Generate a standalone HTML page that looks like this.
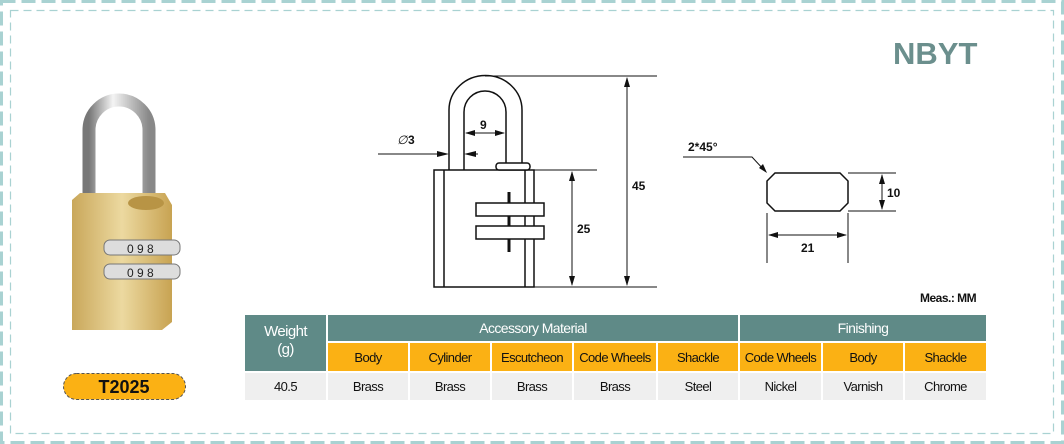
<!DOCTYPE html>
<html><head><meta charset="utf-8"><style>
body{margin:0;background:#fff;font-family:"Liberation Sans",sans-serif;}
.wrap{position:relative;width:1064px;height:444px;overflow:hidden;background:#fff;}
table{position:absolute;left:243px;top:313px;border-collapse:separate;border-spacing:2px;font-size:13px;text-align:center;letter-spacing:-0.6px}
td{padding:0}
.h{background:#5f8a87;color:#fff;font-size:14px}
.o{background:#fbb114;color:#111;height:28px}
.d{background:#efefef;color:#111;height:27px}
</style></head><body><div class="wrap">
<svg width="1064" height="444" style="position:absolute;left:0;top:0">
<rect x="1.5" y="1.5" width="1061" height="441" fill="none" stroke="#a9d2d2" stroke-width="3" stroke-dasharray="14,6"/>
<rect x="10.5" y="10.5" width="1043" height="423" fill="none" stroke="#a9d2d2" stroke-width="1.2" stroke-dasharray="8,5"/>
<text x="893" y="64" font-size="31" font-weight="bold" fill="#6b8f8d" font-family="Liberation Sans">NBYT</text>
<!-- photo -->
<defs><linearGradient id="sh" x1="0" x2="1"><stop offset="0" stop-color="#777"/><stop offset=".4" stop-color="#f4f4f4"/><stop offset="1" stop-color="#888"/></linearGradient>
<linearGradient id="g" x1="0" x2="1"><stop offset="0" stop-color="#c9a75a"/><stop offset=".5" stop-color="#ecd9a0"/><stop offset="1" stop-color="#c8a352"/></linearGradient></defs>
<path d="M89 200 V130 A30 30 0 0 1 149 130 V200" fill="none" stroke="url(#sh)" stroke-width="13"/>
<path d="M72 200 L80 193 L165 193 L172 205 L172 322 L162 330 L72 330 Z" fill="url(#g)"/>
<ellipse cx="146" cy="203" rx="18" ry="7" fill="#b89445"/>
<rect x="104" y="240" width="76" height="15" rx="6" fill="#ddd" stroke="#777"/>
<rect x="104" y="264" width="76" height="15" rx="6" fill="#ddd" stroke="#777"/>
<text x="127" y="253" font-size="12" fill="#222">0 9 8</text>
<text x="127" y="277" font-size="12" fill="#222">0 9 8</text>
<rect x="63.5" y="373.5" width="122" height="26" rx="13" fill="#fbb114" stroke="#555" stroke-dasharray="3,2"/>
<text x="124" y="393" font-size="18" font-weight="bold" text-anchor="middle" fill="#111">T2025</text>
<!-- drawing -->
<g stroke="#111" fill="none" stroke-width="1.5">
<path d="M449 170 V110 A36 34 0 0 1 522 110 V165"/>
<path d="M464 170 V112 A21 21 0 0 1 506 112 V165"/>
<rect x="434" y="170" width="100" height="117"/>
<line x1="444" y1="170" x2="444" y2="287"/><line x1="525" y1="170" x2="525" y2="287"/>
<rect x="496" y="163" width="34" height="7" rx="3" fill="#fff"/>
<line x1="509" y1="192" x2="509" y2="252" stroke-width="3"/>
<rect x="476" y="203" width="68" height="13" fill="#fff"/>
<rect x="476" y="226" width="68" height="13" fill="#fff"/>
<line x1="509" y1="192" x2="509" y2="203" stroke-width="3"/>
<line x1="509" y1="216" x2="509" y2="226" stroke-width="3"/>
<line x1="509" y1="239" x2="509" y2="252" stroke-width="3"/>
<g stroke-width="1">
<line x1="485" y1="76" x2="657" y2="76"/><line x1="534" y1="287" x2="657" y2="287"/>
<line x1="627" y1="78" x2="627" y2="285"/>
<line x1="534" y1="170" x2="597" y2="170"/>
<line x1="572" y1="172" x2="572" y2="285"/>
<line x1="466" y1="133" x2="504" y2="133"/>
<line x1="378" y1="154" x2="447" y2="154"/><line x1="466" y1="154" x2="478" y2="154"/>
<line x1="767" y1="213" x2="767" y2="263"/><line x1="848" y1="213" x2="848" y2="263"/>
<line x1="769" y1="235" x2="846" y2="235"/>
<line x1="848" y1="173" x2="896" y2="173"/><line x1="848" y1="211" x2="896" y2="211"/>
<line x1="882" y1="175" x2="882" y2="209"/>
<polyline points="683,157 752,157 764,170"/>
</g>
<path d="M775 173 H840 L848 181 V203 L840 211 H775 L767 203 V181 Z"/>
</g>
<g fill="#111">
<path d="M627 77 l-3 10 h6z"/><path d="M627 286 l-3 -10 h6z"/>
<path d="M572 171 l-3 10 h6z"/><path d="M572 286 l-3 -10 h6z"/>
<path d="M465 133 l10 -3 v6z"/><path d="M505 133 l-10 -3 v6z"/>
<path d="M449 154 l-12 -3 v6z"/><path d="M464 154 l12 -3 v6z"/>
<path d="M768 235 l10 -3 v6z"/><path d="M847 235 l-10 -3 v6z"/>
<path d="M882 174 l-3 10 h6z"/><path d="M882 210 l-3 -10 h6z"/>
<path d="M767 173 l-8 -5 l4 -4z"/>
</g>
<g font-size="12" font-weight="bold" fill="#111" font-family="Liberation Sans">
<text x="480" y="129">9</text>
<text x="397" y="144" font-weight="normal" font-style="italic">∅</text><text x="408" y="144">3</text>
<text x="632" y="190">45</text><text x="577" y="233">25</text>
<text x="688" y="151">2*45°</text>
<text x="887" y="197">10</text><text x="801" y="252">21</text>
<text x="920" y="302" letter-spacing="-0.5">Meas.: MM</text>
</g>
</svg>
<table>
<tr><td class="h" rowspan="2" style="width:81px;height:56px;font-size:15px;line-height:18px;vertical-align:top;padding-top:8px;box-sizing:border-box">Weight<br>(g)</td>
<td class="h" colspan="5" style="height:26px">Accessory Material</td><td class="h" colspan="3">Finishing</td></tr>
<tr><td class="o" style="width:80px">Body</td><td class="o" style="width:80px">Cylinder</td><td class="o" style="width:80px">Escutcheon</td><td class="o" style="width:82px">Code Wheels</td><td class="o" style="width:80px">Shackle</td><td class="o" style="width:81px">Code Wheels</td><td class="o" style="width:80px">Body</td><td class="o" style="width:81px">Shackle</td></tr>
<tr><td class="d">40.5</td><td class="d">Brass</td><td class="d">Brass</td><td class="d">Brass</td><td class="d">Brass</td><td class="d">Steel</td><td class="d">Nickel</td><td class="d">Varnish</td><td class="d">Chrome</td></tr>
</table>
</div></body></html>
